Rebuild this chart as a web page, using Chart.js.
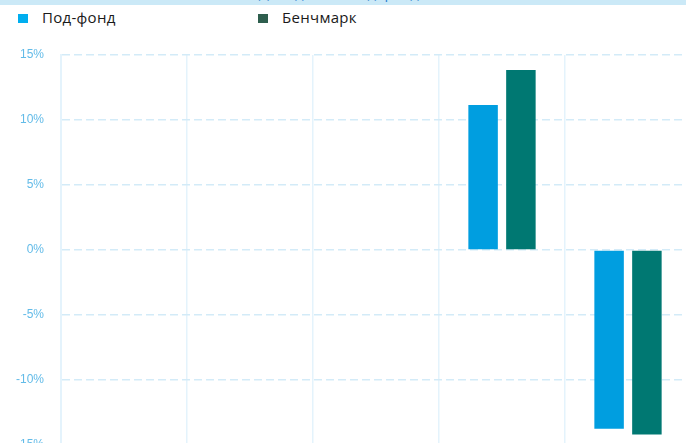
<!DOCTYPE html>
<html>
<head>
<meta charset="utf-8">
<script src="https://cdn.jsdelivr.net/npm/chart.js@4"></script>
<style>
  html, body { margin: 0; padding: 0; background: #fff; }
  body { width: 686px; height: 443px; overflow: hidden; position: relative; }
  #band { position: absolute; left: 0; top: 0; width: 686px; height: 5px; background: #cbe9f7; overflow: hidden; }
  #band span { position: absolute; left: 0; width: 686px; top: -18px; text-align: center; color: #2f7fd0; font: 15px "Open Sans", sans-serif; }
  #legend { position: absolute; top: 0; left: 0; font: 15px "Open Sans", sans-serif; color: #1a1a1a; }
  .item { position: absolute; top: 11px; white-space: nowrap; }
  .box { position: absolute; top: 3px; width: 10px; height: 9px; }
  .lbl { position: absolute; left: 24px; top: -4px; letter-spacing: 0.3px; }
  #wrap { position: absolute; left: 0; top: 0; width: 700px; height: 480px; }
</style>
</head>
<body>
<div id="band"><span>Доходность под-фонда</span></div>
<div id="legend"></div>
<div id="wrap"><canvas id="chart"></canvas></div>
<script>
// DATA
const categories = ["2019", "2020", "2021", "2022", "2023"];
const fundValues = [null, null, null, 11.15, -13.75];
const benchValues = [null, null, null, 13.85, -14.2];
const seriesNames = ["Под-фонд", "Бенчмарк"];
const yTicks = [-15, -10, -5, 0, 5, 10, 15];

// LEGEND (html, so the wide spacing matches)
const legendColors = ["#00aeef", "#2e5e4e"];
const legendX = [18, 258];
const legend = document.getElementById("legend");
seriesNames.forEach((name, i) => {
    const item = document.createElement("div");
    item.className = "item";
    item.style.left = legendX[i] + "px";
    item.innerHTML = '<div class="box" style="background:' + legendColors[i] + '"></div><div class="lbl">' + name + '</div>';
    legend.appendChild(item);
});

// CHART
const ctx = document.getElementById("chart").getContext("2d");

const chart = new Chart(ctx, {
    type: "bar",
    data: {
        labels: categories,
        datasets: [{
            label: seriesNames[0],
            data: fundValues,
            backgroundColor: "#009ee0",
            categoryPercentage: 0.6,
            barPercentage: 0.78
        }, {
            label: seriesNames[1],
            data: benchValues,
            backgroundColor: "#007872",
            categoryPercentage: 0.6,
            barPercentage: 0.78
        }]
    },
    options: {
        responsive: true,
        maintainAspectRatio: false,
        animation: false,
        layout: { padding: { top: 55, bottom: 35, left: 0, right: 9 } },
        plugins: {
            legend: { display: false },
            tooltip: { enabled: false }
        },
        scales: {
            x: {
                ticks: { display: false },
                grid: { color: "#e4f3fc", lineWidth: 1.5, drawTicks: false, offset: true },
                border: { display: false }
            },
            y: {
                min: -15,
                max: 15,
                afterFit: (scale) => { scale.width = 61; },
                afterBuildTicks: (scale) => { scale.ticks = yTicks.map(v => ({ value: v })); },
                ticks: {
                    padding: 17,
                    color: "#62bbe8",
                    font: { family: "Arial, 'Liberation Sans'", size: 12 },
                    callback: (v) => v + "%"
                },
                grid: { color: "#d3ebf8", lineWidth: 1.5, drawTicks: false },
                border: { display: true, color: "#e4f3fc", width: 2, dash: [8, 4] }
            }
        }
    }
});
</script>
</body>
</html>
